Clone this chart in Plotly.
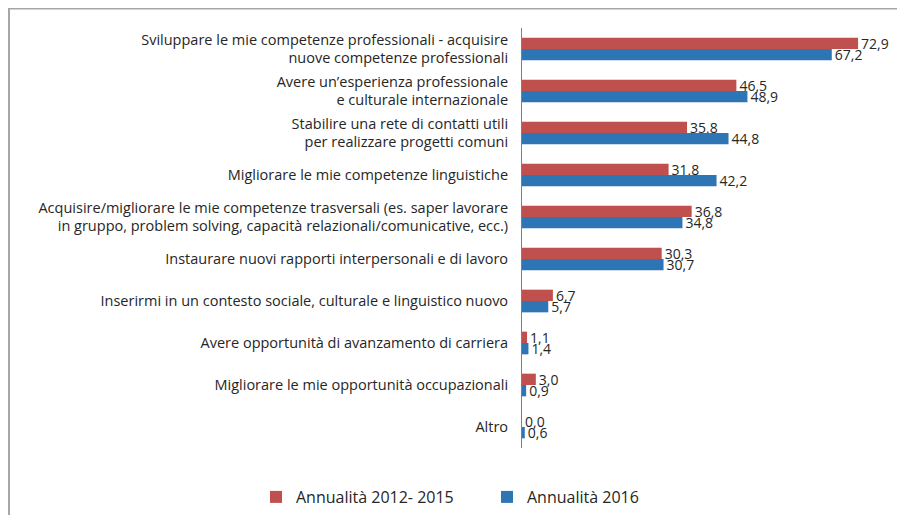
import plotly.graph_objects as go

categories = [
    "Sviluppare le mie competenze professionali - acquisire<br>nuove competenze professionali",
    "Avere un\u2019esperienza professionale<br>e culturale internazionale",
    "Stabilire una rete di contatti utili<br>per realizzare progetti comuni",
    "Migliorare le mie competenze linguistiche",
    "Acquisire/migliorare le mie competenze trasversali (es. saper lavorare<br>in gruppo, problem solving, capacità relazionali/comunicative, ecc.)",
    "Instaurare nuovi rapporti interpersonali e di lavoro",
    "Inserirmi in un contesto sociale, culturale e linguistico nuovo",
    "Avere opportunità di avanzamento di carriera",
    "Migliorare le mie opportunità occupazionali",
    "Altro",
]
series_names = ["Annualità 2012- 2015", "Annualità 2016"]
values_2012_2015 = [72.9, 46.5, 35.8, 31.8, 36.8, 30.3, 6.7, 1.1, 3.0, 0.0]
values_2016 = [67.2, 48.9, 44.8, 42.2, 34.8, 30.7, 5.7, 1.4, 0.9, 0.6]

colors = ["#C0504D", "#2E75B6"]
OFF = 8  # browser body margin
W, H = 905 - OFF, 515 - OFF
L, R, T, B = 522 - OFF, 5, 28 - OFF, 515 - 448
plot_w = W - L - R
plot_h = H - T - B
px_per_unit = 4.61
xmax = plot_w / px_per_unit
FONT = "Open Sans"

def fmt(v):
    return f"{v:.1f}".replace(".", ",")

fig = go.Figure()
for name, vals, col in zip(series_names, [values_2012_2015, values_2016], colors):
    fig.add_trace(go.Bar(
        y=categories, x=vals, name=name, orientation="h",
        marker=dict(color=col, line=dict(width=0)),
        text=[fmt(v) for v in vals], textposition="outside",
        textfont=dict(family=FONT, size=14, color="#262626"),
        constraintext="none", cliponaxis=False,
    ))

# figure pixel -> paper coords (figure pixels are screen pixels minus OFF)
def px_x(p):
    return (p - L) / plot_w

def px_y(p):
    return 1 - (p - T) / plot_h

fig.add_shape(type="line", xref="paper", yref="paper",
              x0=px_x(0), x1=px_x(W + 5), y0=px_y(0), y1=px_y(0),
              line=dict(color="#A6A6A6", width=3))
fig.add_shape(type="line", xref="paper", yref="paper",
              x0=px_x(1), x1=px_x(1), y0=px_y(0), y1=px_y(H + 5),
              line=dict(color="#A6A6A6", width=2))

fig.update_layout(
    width=W, height=H,
    margin=dict(l=L, r=R, t=T, b=B, autoexpand=False),
    paper_bgcolor="white", plot_bgcolor="white",
    barmode="group", bargap=0.46, bargroupgap=0.0,
    font=dict(family=FONT, size=14, color="#262626"),
    xaxis=dict(range=[0, xmax], visible=False, showgrid=False, zeroline=False),
    yaxis=dict(autorange="reversed", showline=True, linecolor="#808080", linewidth=1,
               ticks="", showgrid=False, ticklabelstandoff=10, automargin=False,
               tickfont=dict(family=FONT, size=14.5, color="#262626")),
    legend=dict(orientation="h", x=px_x(248), xanchor="left", y=px_y(497 - OFF), yanchor="middle",
                xref="paper", yref="paper",
                font=dict(family=FONT, size=16, color="#262626"), traceorder="normal",
                itemwidth=30, entrywidth=186, entrywidthmode="pixels"),
    showlegend=True,
)

fig.write_html("out.html")
